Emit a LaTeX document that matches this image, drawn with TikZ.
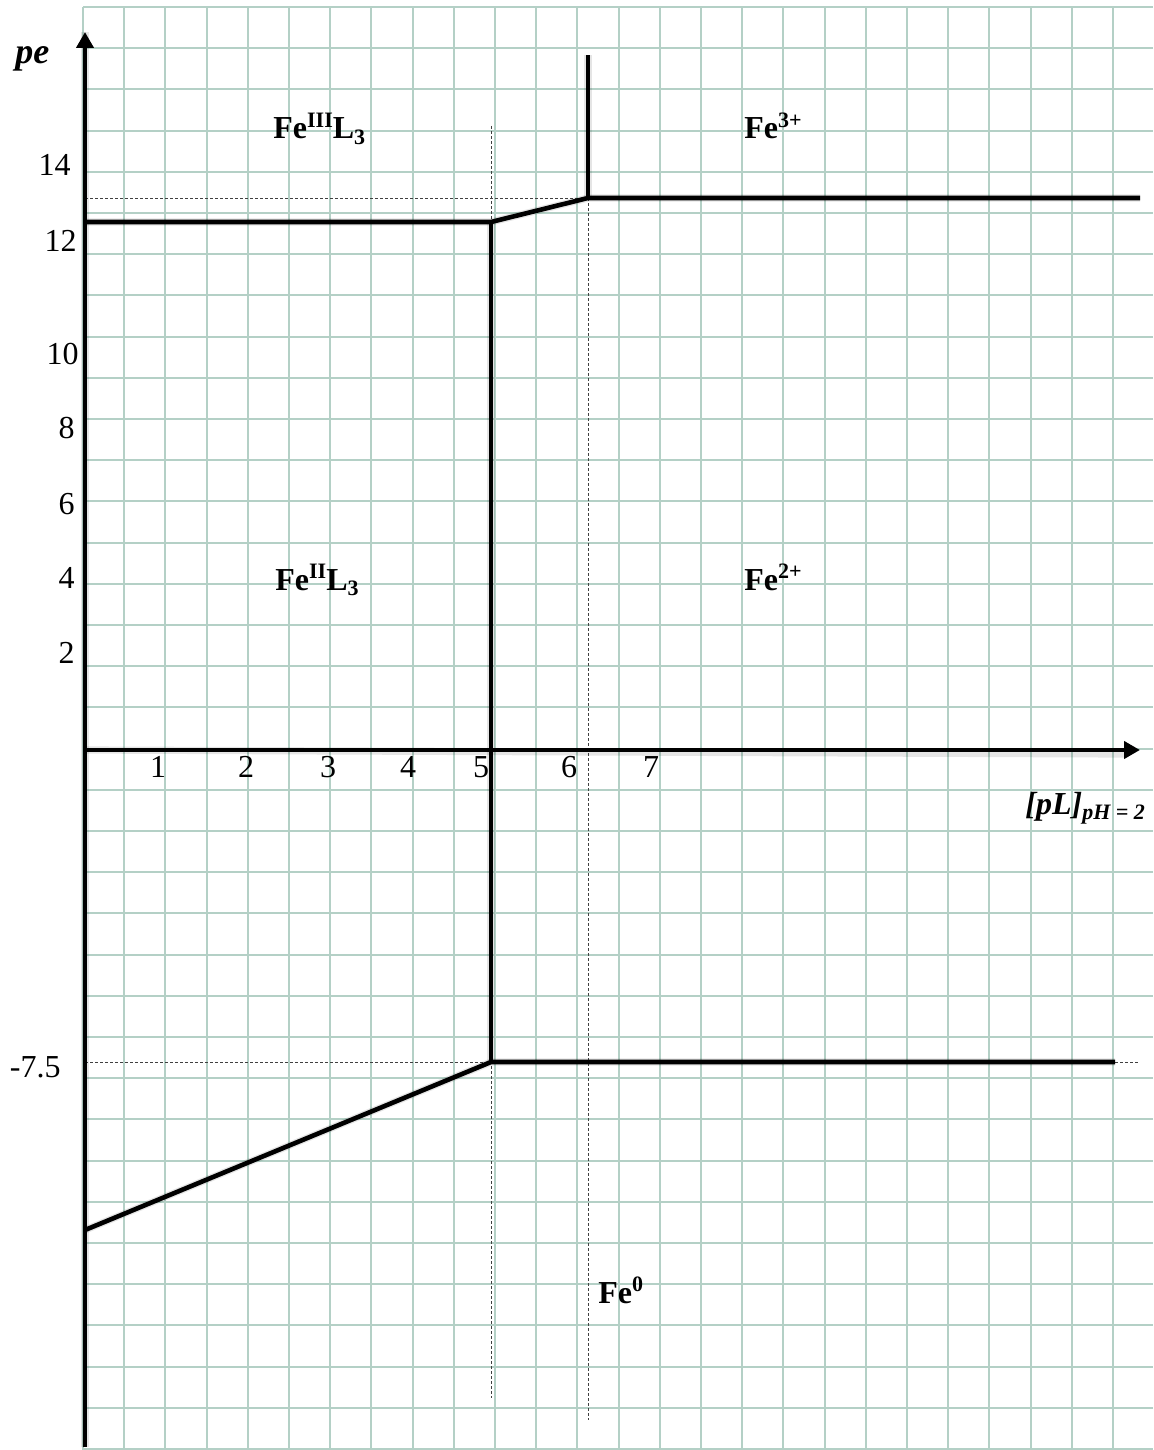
\documentclass[tikz,border=0pt]{standalone}
\usepackage{fontspec}
\setmainfont{Liberation Serif}
\usetikzlibrary{arrows.meta}
\definecolor{gridc}{RGB}{180,208,198}
\newcommand\mysup[1]{\raisebox{0.36em}{\fontsize{11}{11}\selectfont #1}}
\newcommand\mysub[1]{\raisebox{-0.16em}{\fontsize{11}{11}\selectfont #1}}
\begin{document}
\begin{tikzpicture}[x=0.5pt,y=-0.5pt,
  gridline/.style={gridc, line width=1pt},
  bound/.style={line width=2.3pt, line join=miter},
  shade/.style={black, opacity=0.10, line width=3.6pt, shift={(1.5,4)}},
  axisline/.style={line width=2.4pt, -{Triangle[length=8pt,width=8.5pt]}},
  guide/.style={black!75, line width=0.35pt, dash pattern=on 1.5pt off 1pt},
  ticklab/.style={font=\fontsize{16}{19}\selectfont, inner sep=0pt},
  phase/.style={font=\bfseries\fontsize{16}{19}\selectfont, inner sep=0pt, anchor=base west}
]
\useasboundingbox (0,0) rectangle (1153,1450);
\fill[white] (0,0) rectangle (1153,1450);
% grid
\foreach \i in {0,...,25} \draw[gridline] (83+41.2*\i,7) -- (83+41.2*\i,1450);
\foreach \j in {0,...,35} \draw[gridline] (83,7+41.2*\j) -- (1153,7+41.2*\j);
% key points
\coordinate (O) at (85,750);
\coordinate (ytop) at (85,32);
\coordinate (ybot) at (85,1447);
\coordinate (xend) at (1140,750);
\coordinate (A) at (85,222);
\coordinate (B) at (491,222);
\coordinate (C) at (588,198);
\coordinate (D) at (1140,198);
\coordinate (E) at (588,55);
\coordinate (F) at (491,1062);
\coordinate (G) at (1115,1062);
\coordinate (H) at (85,1230);
\coordinate (g1a) at (491,126);
\coordinate (g1b) at (491,1398);
\coordinate (g2b) at (588,1420);
\coordinate (g3a) at (85,198);
\coordinate (g4a) at (85,1062);
\coordinate (g4b) at (1140,1062);
% guide lines
\draw[guide] (g1a) -- (g1b);
\draw[guide] (C) -- (g2b);
\draw[guide] (g3a) -- (C);
\draw[guide] (g4a) -- (g4b);
% shadows
\draw[shade] (A) -- (B) -- (C) -- (D);
\draw[shade] (C) -- (E);
\draw[shade] (B) -- (F);
\draw[shade] (H) -- (F) -- (G);
\draw[shade] (ybot) -- (ytop);
\draw[shade] (O) -- (1125,750);
% boundaries
\draw[bound] (A) -- (B) -- (C) -- (D);
\draw[bound] (C) -- (E);
\draw[bound] (B) -- (F);
\draw[bound] (H) -- (F) -- (G);
% axes
\draw[axisline] (ybot) -- (ytop);
\draw[axisline] (O) -- (xend);
% axis titles
\node[inner sep=0pt, anchor=base west, font=\bfseries\itshape\fontsize{18}{21}\selectfont] (pe) at (15,64) {pe};
\node[inner sep=0pt, anchor=base west, font=\bfseries\itshape\fontsize{16}{19}\selectfont] (pl) at (1025,814) {[pL]\mysub{pH = 2}};
% x tick labels
\node[ticklab, anchor=base] (x1) at (158,777) {1};
\node[ticklab, anchor=base] (x2) at (246,777) {2};
\node[ticklab, anchor=base] (x3) at (328,777) {3};
\node[ticklab, anchor=base] (x4) at (408,777) {4};
\node[ticklab, anchor=base] (x5) at (481,777) {5};
\node[ticklab, anchor=base] (x6) at (569,777) {6};
\node[ticklab, anchor=base] (x7) at (651,777) {7};
% y tick labels
\node[ticklab, anchor=base east] (y14) at (71,176) {14};
\node[ticklab, anchor=base east] (y12) at (77,251) {12};
\node[ticklab, anchor=base east] (y10) at (79,364) {10};
\node[ticklab, anchor=base east] (y8) at (75,438) {8};
\node[ticklab, anchor=base east] (y6) at (75,514) {6};
\node[ticklab, anchor=base east] (y4) at (75,588) {4};
\node[ticklab, anchor=base east] (y2) at (75,663) {2};
\node[ticklab, anchor=base east] (ym) at (61,1077) {-7.5};
% phase labels
\node[phase] (f3l) at (273,139) {Fe\mysup{III}L\mysub{3}};
\node[phase] (f3) at (744,139) {Fe\mysup{3+}};
\node[phase] (f2l) at (275,590) {Fe\mysup{II}L\mysub{3}};
\node[phase] (f2) at (744,590) {Fe\mysup{2+}};
\node[phase] (f0) at (598,1303) {Fe\mysup{0}};
\end{tikzpicture}
\end{document}
